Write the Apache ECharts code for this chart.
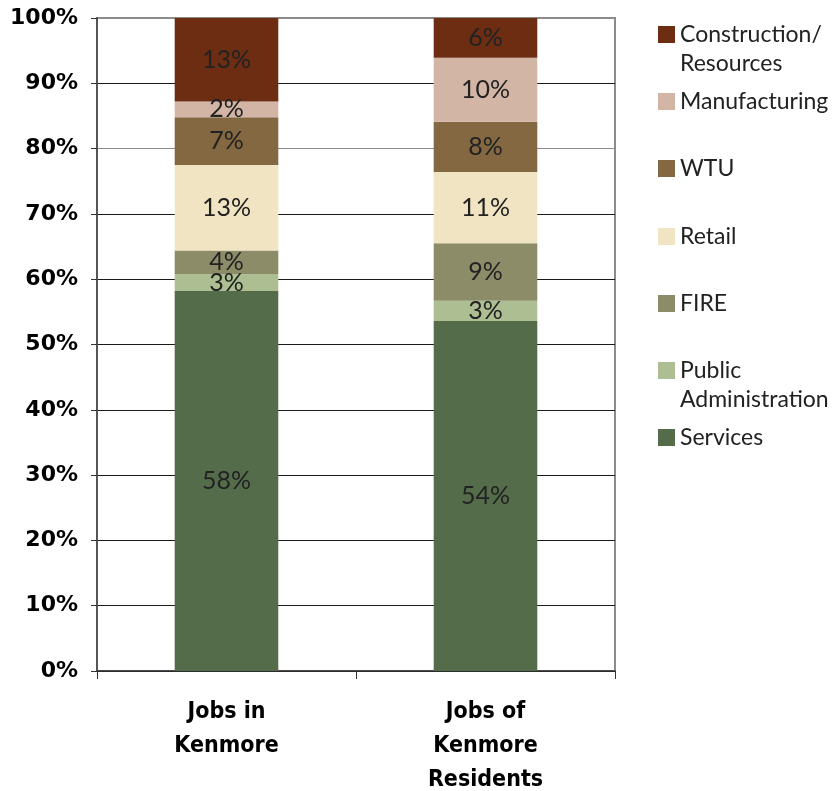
<!DOCTYPE html>
<html>
<head>
<meta charset="utf-8">
<script src="https://cdn.jsdelivr.net/npm/echarts@6/dist/echarts.min.js"></script>
<style>
  html, body { margin: 0; padding: 0; background: #fff; }
</style>
</head>
<body>
<div id="chart" style="width: 835px; height: 791px;"></div>
<script>
// categories along the x axis
var categories = ['Jobs in\nKenmore', 'Jobs of\nKenmore\nResidents'];

// share of jobs (%) per sector, [Jobs in Kenmore, Jobs of Kenmore Residents]
var services = [58.2, 53.6];
var publicAdmin = [2.6, 3.1];
var fire = [3.6, 8.8];
var retail = [13.1, 10.9];
var wtu = [7.3, 7.7];
var manufacturing = [2.4, 9.8];
var construction = [12.8, 6.1];

// sector names, bottom of the stack first
var sectorNames = ['Services', 'Public Administration', 'FIRE', 'Retail', 'WTU', 'Manufacturing', 'Construction/Resources'];
var sectorColors = ['#546c4a', '#adbf92', '#8d8c69', '#f1e4c2', '#836841', '#d3b5a5', '#6d2d13'];
var sectorValues = [services, publicAdmin, fire, retail, wtu, manufacturing, construction];

var chartDom = document.getElementById('chart');
var myChart = echarts.init(chartDom);
var option;

var labelFont = 'Lato, "Noto Sans", sans-serif';
var catFont = '"DejaVu Sans Condensed", "Liberation Sans Narrow", "DejaVu Sans", sans-serif';

// grid lines: dark, except 80% and 100% which show lighter
var splitColors = ['#1a1a1a', '#1a1a1a', '#1a1a1a', '#1a1a1a', '#1a1a1a', '#1a1a1a',
                   '#1a1a1a', '#1a1a1a', '#8c8c8c', '#1a1a1a', '#8c8c8c'];

var series = sectorNames.map(function (name, i) {
    return {
        name: name,
        type: 'bar',
        stack: 'total',
        barWidth: '40%',
        color: sectorColors[i],
        label: {
            show: true,
            position: 'inside',
            color: '#222',
            fontSize: 25,
            fontFamily: labelFont,
            formatter: function (p) {
                return Math.round(p.value) + '%';
            }
        },
        data: sectorValues[i]
    };
});

// legend: one block per sector, top to bottom, icons 67px apart
var legendOrder = sectorNames.slice().reverse();
var iconTops = [26, 93, 160, 228, 295, 362, 429];
var legends = legendOrder.map(function (name, i) {
    var multi = name === 'Construction/Resources' || name === 'Public Administration';
    return {
        left: 658,
        top: iconTops[i] - (multi ? 35 : 6),
        padding: 0,
        orient: 'vertical',
        icon: 'rect',
        itemWidth: 17,
        itemHeight: 17,
        selectedMode: false,
        // blank first line keeps the icon level with the first text line
        formatter: function (n) {
            if (n === 'Construction/Resources') return ' \nConstruction/\nResources';
            if (n === 'Public Administration') return ' \nPublic\nAdministration';
            return n;
        },
        textStyle: {
            fontSize: 23,
            lineHeight: 29,
            fontFamily: labelFont,
            color: '#222'
        },
        data: [name]
    };
});

option = {
    animation: false,
    grid: {
        left: 97,
        right: 220,
        top: 18,
        bottom: 120,
        outerBoundsMode: 'none',
        containLabel: false,
        show: true,
        borderColor: '#8c8c8c',
        borderWidth: 2
    },
    legend: legends,
    xAxis: {
        type: 'category',
        data: categories,
        axisLine: { lineStyle: { color: '#333', width: 1.5 } },
        axisTick: { show: true, length: 8, lineStyle: { color: '#333' } },
        axisLabel: {
            interval: 0,
            margin: 24,
            color: '#000',
            fontSize: 23,
            fontWeight: 'bold',
            lineHeight: 34,
            fontFamily: catFont
        }
    },
    yAxis: {
        type: 'value',
        min: 0,
        max: 100,
        interval: 10,
        axisLine: { show: true, lineStyle: { color: '#555', width: 2 } },
        axisTick: { show: true, length: 6, lineStyle: { color: '#333' } },
        splitLine: { lineStyle: { color: splitColors, width: 1 } },
        axisLabel: {
            formatter: '{value}%',
            margin: 19,
            color: '#000',
            fontSize: 22,
            fontWeight: 'bold',
            fontFamily: '"DejaVu Sans", sans-serif'
        }
    },
    series: series
};

option && myChart.setOption(option);
</script>
</body>
</html>
